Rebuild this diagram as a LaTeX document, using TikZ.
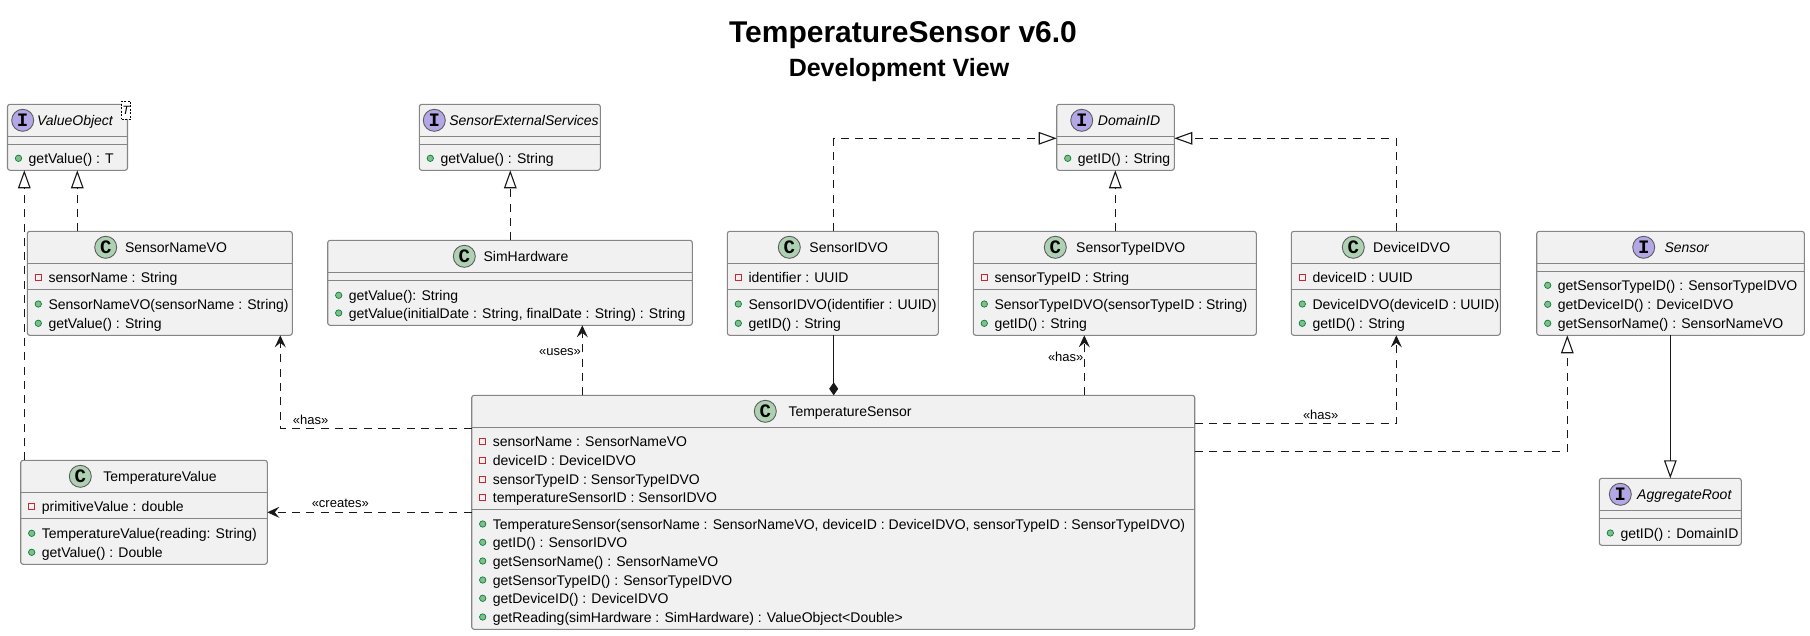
\documentclass[tikz,border=0pt]{standalone}
\usepackage{fontspec}
\setmainfont{Liberation Sans}
\newfontfamily\iconfont{Liberation Mono}
\usetikzlibrary{arrows.meta}
\definecolor{boxfill}{HTML}{F1F1F1}
\definecolor{boxline}{HTML}{858585}
\definecolor{linkcol}{HTML}{181818}
\definecolor{classicon}{HTML}{ADD1B2}
\definecolor{ifaceicon}{HTML}{B4A7E5}
\definecolor{privcol}{HTML}{C82930}
\definecolor{pubcol}{HTML}{038048}
\definecolor{pubfill}{HTML}{84BE84}
\tikzset{
  x=1pt,y=-1pt,
  classbox/.style={draw=boxline,fill=boxfill,line width=1.1pt,rounded corners=2.5pt,inner sep=0pt,outer sep=0pt},
  sepline/.style={draw=boxline,line width=1.1pt},
  icon/.style={circle,draw=linkcol!70,line width=.9pt,minimum size=22pt,inner sep=0pt,font=\iconfont\bfseries\fontsize{19}{19}\selectfont},
  cname/.style={font=\fontsize{14}{14}\selectfont,anchor=base,inner sep=0pt},
  iname/.style={font=\itshape\fontsize{14}{14}\selectfont,anchor=base,inner sep=0pt},
  member/.style={font=\fontsize{14}{14}\selectfont,anchor=base west,inner sep=0pt},
  linklabel/.style={font=\fontsize{13}{13}\selectfont,text=black,inner sep=0pt},
  link/.style={draw=linkcol,line width=1.15pt},
  dashlink/.style={link,dash pattern=on 8pt off 6.3pt},
  realize/.style={dashlink,-{Triangle[open,length=18pt,width=12.6pt,line width=1.1pt,fill=white]}},
  extend/.style={link,-{Triangle[open,length=18pt,width=12.6pt,line width=1.1pt,fill=white]}},
  depend/.style={dashlink,-{Stealth[length=12pt,width=11pt,inset=4.5pt]}},
  compose/.style={link,-{Diamond[length=13pt,width=9pt]}},
}
\newcommand{\umlbox}[5]{%
  \pgfmathsetmacro\bcx{(#2+#4)/2}\pgfmathsetmacro\bcy{(#3+#5)/2}%
  \pgfmathsetmacro\bw{#4-#2}\pgfmathsetmacro\bh{#5-#3}%
  \node[classbox,minimum width=\bw pt,minimum height=\bh pt] (#1) at (\bcx,\bcy) {};}
\newcommand{\umlsep}[3]{\draw[sepline] (#1,#3) -- (#2,#3);}
\newcommand{\cclass}[5]{% id, icon x, icon y, name x, name
  \node[icon,fill=classicon] (#1-icon) at (#2,#3) {C};
  \node[cname] (#1-name) at (#4,#3+5) {#5};}
\newcommand{\iclass}[5]{%
  \node[icon,fill=ifaceicon] (#1-icon) at (#2,#3) {I};
  \node[iname] (#1-name) at (#4,#3+5) {#5};}
\newcommand{\pubm}[4]{% name, box x, row y, text
  \draw[pubcol,fill=pubfill,line width=.7pt] (#2+11,#3) circle[radius=3.2pt];
  \node[member] (#1) at (#2+21,#3+5) {#4};}
\newcommand{\privm}[4]{%
  \draw[privcol,fill=boxfill,line width=.9pt] (#2+8,#3-3) rectangle (#2+14,#3+3);
  \node[member] (#1) at (#2+21,#3+5) {#4};}
\begin{document}
\begin{tikzpicture}
\useasboundingbox (0,0) rectangle (1810,635);
% titles
\node[font=\bfseries\fontsize{30}{30}\selectfont,inner sep=0pt,anchor=base] (title) at (903,42) {TemperatureSensor v6.0};
\node[font=\bfseries\fontsize{25}{25}\selectfont,inner sep=0pt,anchor=base] (subtitle) at (899,76) {Development View};
% ValueObject
\umlbox{vo}{7.5}{104.3}{127.5}{170.3}
\umlsep{7.5}{127.5}{136.3}\umlsep{7.5}{127.5}{144.3}
\iclass{vo}{22.7}{120.3}{75}{ValueObject}
\pubm{vo-m1}{7.5}{158.3}{getValue() : T}
\node[draw=black,fill=white,dash pattern=on 2pt off 1.5pt,line width=.7pt,minimum width=9pt,minimum height=18pt,inner sep=0pt,font=\itshape\fontsize{12}{12}\selectfont] (vo-t) at (126,110.2) {T};
% SensorExternalServices
\umlbox{ses}{419.3}{104.3}{600.3}{170.3}
\umlsep{419.3}{600.3}{136.3}\umlsep{419.3}{600.3}{144.3}
\iclass{ses}{434.3}{120.3}{524}{SensorExternalServices}
\pubm{ses-m1}{419.3}{158.3}{getValue() : String}
% DomainID
\umlbox{dom}{1056.7}{104.3}{1174.3}{170.3}
\umlsep{1056.7}{1174.3}{136.3}\umlsep{1056.7}{1174.3}{144.3}
\iclass{dom}{1081.7}{120.3}{1129}{DomainID}
\pubm{dom-m1}{1056.7}{158.3}{getID() : String}
% SensorNameVO
\umlbox{sn}{27.3}{231.3}{292.3}{335.3}
\umlsep{27.3}{292.3}{263.3}\umlsep{27.3}{292.3}{289.3}
\cclass{sn}{105.7}{247.3}{176}{SensorNameVO}
\privm{sn-m1}{27.3}{277}{sensorName : String}
\pubm{sn-m2}{27.3}{304}{SensorNameVO(sensorName : String)}
\pubm{sn-m3}{27.3}{323.3}{getValue() : String}
% SimHardware
\umlbox{sim}{327.7}{240.3}{692.3}{325.3}
\umlsep{327.7}{692.3}{272.3}\umlsep{327.7}{692.3}{280.3}
\cclass{sim}{464.3}{256.3}{526}{SimHardware}
\pubm{sim-m1}{327.7}{295.3}{getValue(): String}
\pubm{sim-m2}{327.7}{313}{getValue(initialDate : String, finalDate : String) : String}
% SensorIDVO
\umlbox{sid}{727.3}{231.3}{938.3}{335.3}
\umlsep{727.3}{938.3}{263.3}\umlsep{727.3}{938.3}{289.3}
\cclass{sid}{789.3}{247.3}{848.7}{SensorIDVO}
\privm{sid-m1}{727.3}{277}{identifier : UUID}
\pubm{sid-m2}{727.3}{304}{SensorIDVO(identifier : UUID)}
\pubm{sid-m3}{727.3}{323.3}{getID() : String}
% SensorTypeIDVO
\umlbox{stid}{973.3}{231.3}{1256.3}{335.3}
\umlsep{973.3}{1256.3}{263.3}\umlsep{973.3}{1256.3}{289.3}
\cclass{stid}{1055.3}{247.3}{1130.7}{SensorTypeIDVO}
\privm{stid-m1}{973.3}{277}{sensorTypeID : String}
\pubm{stid-m2}{973.3}{304}{SensorTypeIDVO(sensorTypeID : String)}
\pubm{stid-m3}{973.3}{323.3}{getID() : String}
% DeviceIDVO
\umlbox{did}{1291.3}{231.3}{1500.3}{335.3}
\umlsep{1291.3}{1500.3}{263.3}\umlsep{1291.3}{1500.3}{289.3}
\cclass{did}{1353.3}{247.3}{1411.7}{DeviceIDVO}
\privm{did-m1}{1291.3}{277}{deviceID : UUID}
\pubm{did-m2}{1291.3}{304}{DeviceIDVO(deviceID : UUID)}
\pubm{did-m3}{1291.3}{323.3}{getID() : String}
% Sensor
\umlbox{sen}{1536.7}{231.3}{1804.3}{335.3}
\umlsep{1536.7}{1804.3}{263.3}\umlsep{1536.7}{1804.3}{271.3}
\iclass{sen}{1643.7}{247.3}{1686.7}{Sensor}
\pubm{sen-m1}{1536.7}{285.3}{getSensorTypeID() : SensorTypeIDVO}
\pubm{sen-m2}{1536.7}{304.3}{getDeviceID() : DeviceIDVO}
\pubm{sen-m3}{1536.7}{323.3}{getSensorName() : SensorNameVO}
% AggregateRoot
\umlbox{agg}{1599.3}{478.3}{1741.3}{545.3}
\umlsep{1599.3}{1741.3}{510.3}\umlsep{1599.3}{1741.3}{518.3}
\iclass{agg}{1620.3}{494.3}{1684.3}{AggregateRoot}
\pubm{agg-m1}{1599.3}{533}{getID() : DomainID}
% TemperatureValue
\umlbox{tv}{20.7}{460.3}{267.3}{564.3}
\umlsep{20.7}{267.3}{492.3}\umlsep{20.7}{267.3}{518.3}
\cclass{tv}{80.3}{476.3}{160}{TemperatureValue}
\privm{tv-m1}{20.7}{506.3}{primitiveValue : double}
\pubm{tv-m2}{20.7}{533.3}{TemperatureValue(reading: String)}
\pubm{tv-m3}{20.7}{552.3}{getValue() : Double}
% TemperatureSensor
\umlbox{ts}{471.7}{395.3}{1194.7}{629.3}
\umlsep{471.7}{1194.7}{427.3}\umlsep{471.7}{1194.7}{509.3}
\cclass{ts}{765.3}{411.3}{850}{TemperatureSensor}
\privm{ts-m1}{471.7}{441.3}{sensorName : SensorNameVO}
\privm{ts-m2}{471.7}{460.3}{deviceID : DeviceIDVO}
\privm{ts-m3}{471.7}{479.3}{sensorTypeID : SensorTypeIDVO}
\privm{ts-m4}{471.7}{497.3}{temperatureSensorID : SensorIDVO}
\pubm{ts-m5}{471.7}{524}{TemperatureSensor(sensorName : SensorNameVO, deviceID : DeviceIDVO, sensorTypeID : SensorTypeIDVO)}
\pubm{ts-m6}{471.7}{542.3}{getID() : SensorIDVO}
\pubm{ts-m7}{471.7}{561}{getSensorName() : SensorNameVO}
\pubm{ts-m8}{471.7}{580}{getSensorTypeID() : SensorTypeIDVO}
\pubm{ts-m9}{471.7}{598.3}{getDeviceID() : DeviceIDVO}
\pubm{ts-m10}{471.7}{617}{getReading(simHardware : SimHardware) : ValueObject<Double>}
% connectors
\draw[realize] (24.3,0 |- tv.north) -- (24.3,0 |- vo.south);
\draw[realize] (77.3,0 |- sn.north) -- (77.3,0 |- vo.south);
\draw[realize] (510.3,0 |- sim.north) -- (510.3,0 |- ses.south);
\draw[realize] (833.7,0 |- sid.north) |- (dom.west |- 0,138.3);
\draw[realize] (1115.3,0 |- stid.north) -- (1115.3,0 |- dom.south);
\draw[realize] (1396.3,0 |- did.north) |- (dom.east |- 0,138.3);
\draw[depend] (ts.west |- 0,428.3) -| (280.3,0 |- sn.south);
\draw[depend] (582.3,0 |- ts.north) -- (582.3,0 |- sim.south);
\draw[compose] (833.7,0 |- sid.south) -- (833.7,0 |- ts.north);
\draw[depend] (1084.3,0 |- ts.north) -- (1084.3,0 |- stid.south);
\draw[depend] (ts.east |- 0,423.3) -| (1396.3,0 |- did.south);
\draw[realize] (ts.east |- 0,451.3) -| (1567.3,0 |- sen.south);
\draw[extend] (1670.3,0 |- sen.south) -- (1670.3,0 |- agg.north);
\draw[depend] (ts.west |- 0,512.3) -- (tv.east |- 0,512.3);
% labels
\node[linklabel] (l-has1) at (310.7,419.7) {«has»};
\node[linklabel] (l-uses) at (560,352) {«uses»};
\node[linklabel] (l-has2) at (1065.7,356.7) {«has»};
\node[linklabel] (l-has3) at (1320.7,415) {«has»};
\node[linklabel] (l-creates) at (340.3,503.7) {«creates»};
\end{tikzpicture}
\end{document}
